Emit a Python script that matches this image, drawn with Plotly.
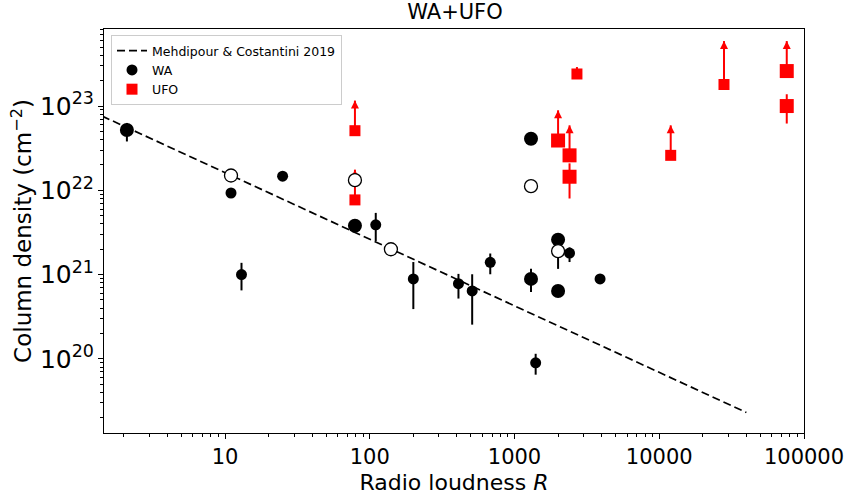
import numpy as np
import plotly.graph_objects as go

# Mehdipour & Costantini (2019) relation: log N = A + B * log R
fit_A = 23.0
fit_B = -0.79
fit_R = [1.0, 4.0e4]

# Warm absorbers: large filled markers
wa_big_R = [2.1, 79, 1300, 1300, 2000, 2000]
wa_big_N = [5.2e22, 3.8e21, 8.9e20, 4.1e22, 2.6e21, 6.4e20]
wa_big_hi = [6.3e22, 3.8e21, 1.17e21, 4.1e22, 2.6e21, 6.4e20]
wa_big_lo = [3.8e22, 3.8e21, 6.2e20, 4.1e22, 2.6e21, 6.4e20]

# Warm absorbers: small filled markers
wa_small_R = [11, 25, 13, 110, 200, 410, 510, 680, 2400, 3900, 1400]
wa_small_N = [9.3e21, 1.47e22, 1.0e21, 3.9e21, 8.9e20, 7.8e20, 6.4e20, 1.4e21, 1.8e21, 8.9e20, 9.0e19]
wa_small_hi = [9.3e21, 1.47e22, 1.38e21, 5.4e21, 1.41e21, 1.02e21, 1.01e21, 1.78e21, 2.1e21, 8.9e20, 1.15e20]
wa_small_lo = [9.3e21, 1.47e22, 6.5e20, 2.5e21, 3.9e20, 5.2e20, 2.55e20, 1.01e21, 1.41e21, 8.9e20, 6.5e19]

# Warm absorbers: open markers
wa_open_R = [11, 79, 140, 1300, 2000]
wa_open_N = [1.5e22, 1.32e22, 2.0e21, 1.12e22, 1.9e21]
wa_open_hi = [1.5e22, 1.32e22, 2.0e21, 1.12e22, 1.9e21]
wa_open_lo = [1.5e22, 1.32e22, 2.0e21, 1.12e22, 1.17e21]

# UFOs: lower limits (value and arrow tip), large markers
ufo_lim_big_R = [2000, 2400, 76000]
ufo_lim_big_N = [3.9e22, 2.6e22, 2.6e23]
ufo_lim_big_tip = [8.9e22, 5.9e22, 5.9e23]

# UFOs: lower limits, small markers
ufo_lim_small_R = [79, 79, 2700, 12000, 28000]
ufo_lim_small_N = [5.1e22, 7.7e21, 2.4e23, 2.6e22, 1.8e23]
ufo_lim_small_tip = [1.16e23, 1.76e22, 2.9e23, 5.9e22, 5.9e23]

# UFOs: measured values with error bars
ufo_meas_R = [2400, 76000]
ufo_meas_N = [1.45e22, 1.0e23]
ufo_meas_hi = [2.09e22, 1.38e23]
ufo_meas_lo = [8.0e21, 6.2e22]

x_tick_vals = [10, 100, 1000, 10000, 100000]
x_tick_text = ["10", "100", "1000", "10000", "100000"]

BLACK = "#000000"
RED = "#ff0000"
FONT = "DejaVu Sans"


def err(n, hi, lo):
    n, hi, lo = map(np.asarray, (n, hi, lo))
    return dict(type="data", symmetric=False, array=hi - n, arrayminus=n - lo,
                thickness=2, width=0)


def stems(R, N, tip):
    xs, ys = [], []
    for r, n, t in zip(R, N, tip):
        xs += [r, r, None]
        ys += [n, t, None]
    return xs, ys


fig = go.Figure()

# fitted relation
fit_logR = np.log10(fit_R)
fig.add_trace(go.Scatter(
    x=fit_R, y=10 ** (fit_A + fit_B * fit_logR), mode="lines",
    line=dict(color=BLACK, width=1.7, dash="8px,4px"),
    name="Mehdipour & Costantini 2019", legendrank=1))

fig.add_trace(go.Scatter(
    x=wa_big_R, y=wa_big_N, mode="markers",
    marker=dict(symbol="circle", size=14, color=BLACK),
    error_y=dict(err(wa_big_N, wa_big_hi, wa_big_lo), color=BLACK),
    showlegend=False))

fig.add_trace(go.Scatter(
    x=wa_small_R, y=wa_small_N, mode="markers",
    marker=dict(symbol="circle", size=11, color=BLACK),
    error_y=dict(err(wa_small_N, wa_small_hi, wa_small_lo), color=BLACK),
    name="WA", legendrank=2))

# UFO lower-limit arrows
for R, N, tip in [(ufo_lim_big_R, ufo_lim_big_N, ufo_lim_big_tip),
                  (ufo_lim_small_R, ufo_lim_small_N, ufo_lim_small_tip)]:
    sx, sy = stems(R, N, tip)
    fig.add_trace(go.Scatter(x=sx, y=sy, mode="lines",
                             line=dict(color=RED, width=2), showlegend=False))
    fig.add_trace(go.Scatter(x=R, y=tip, mode="markers",
                             marker=dict(symbol="arrow-up", size=8, color=RED),
                             showlegend=False))

fig.add_trace(go.Scatter(
    x=ufo_lim_big_R, y=ufo_lim_big_N, mode="markers",
    marker=dict(symbol="square", size=14, color=RED), showlegend=False))

fig.add_trace(go.Scatter(
    x=ufo_lim_small_R, y=ufo_lim_small_N, mode="markers",
    marker=dict(symbol="square", size=11, color=RED),
    name="UFO", legendrank=3))

fig.add_trace(go.Scatter(
    x=ufo_meas_R, y=ufo_meas_N, mode="markers",
    marker=dict(symbol="square", size=14, color=RED),
    error_y=dict(err(ufo_meas_N, ufo_meas_hi, ufo_meas_lo), color=RED),
    showlegend=False))

fig.add_trace(go.Scatter(
    x=wa_open_R, y=wa_open_N, mode="markers",
    marker=dict(symbol="circle", size=13, color="white",
                line=dict(color=BLACK, width=1.3)),
    error_y=dict(err(wa_open_N, wa_open_hi, wa_open_lo), color=BLACK),
    showlegend=False))

axis_common = dict(
    showline=True, linecolor=BLACK, linewidth=1, mirror=True,
    ticks="outside", ticklen=5, tickwidth=1, tickcolor=BLACK,
    showgrid=False, zeroline=False,
    minor=dict(ticks="outside", ticklen=3, tickwidth=0.8, tickcolor=BLACK,
               dtick="D1", showgrid=False),
)

fig.update_layout(
    width=856, height=503,
    margin=dict(l=104, r=48, t=29, b=65),
    paper_bgcolor="white", plot_bgcolor="white",
    font=dict(family=FONT, color=BLACK),
    title=dict(text="WA+UFO", x=0.5315, xanchor="center", y=0.977, yanchor="middle",
               font=dict(size=21, family=FONT)),
    xaxis=dict(axis_common, type="log", range=[0.164, 5.0],
               tickmode="array", tickvals=x_tick_vals, ticktext=x_tick_text,
               tickfont=dict(size=21, family=FONT),
               title=dict(text="Radio loudness <i>R</i>", font=dict(size=22, family=FONT),
                          standoff=6)),
    yaxis=dict(axis_common, type="log", range=[19.121, 23.914], dtick=1,
               exponentformat="power", showexponent="all",
               tickfont=dict(size=20, family=FONT),
               title=dict(text="Column density (cm<sup>\u22122</sup>)",
                          font=dict(size=23, family=FONT), standoff=1)),
    legend=dict(x=0.01, y=0.985, xanchor="left", yanchor="top",
                bgcolor="rgba(255,255,255,0.8)", bordercolor="#cccccc", borderwidth=1,
                font=dict(size=12.5, family=FONT), tracegroupgap=0, itemwidth=30),
)

fig.write_html("out.html")
